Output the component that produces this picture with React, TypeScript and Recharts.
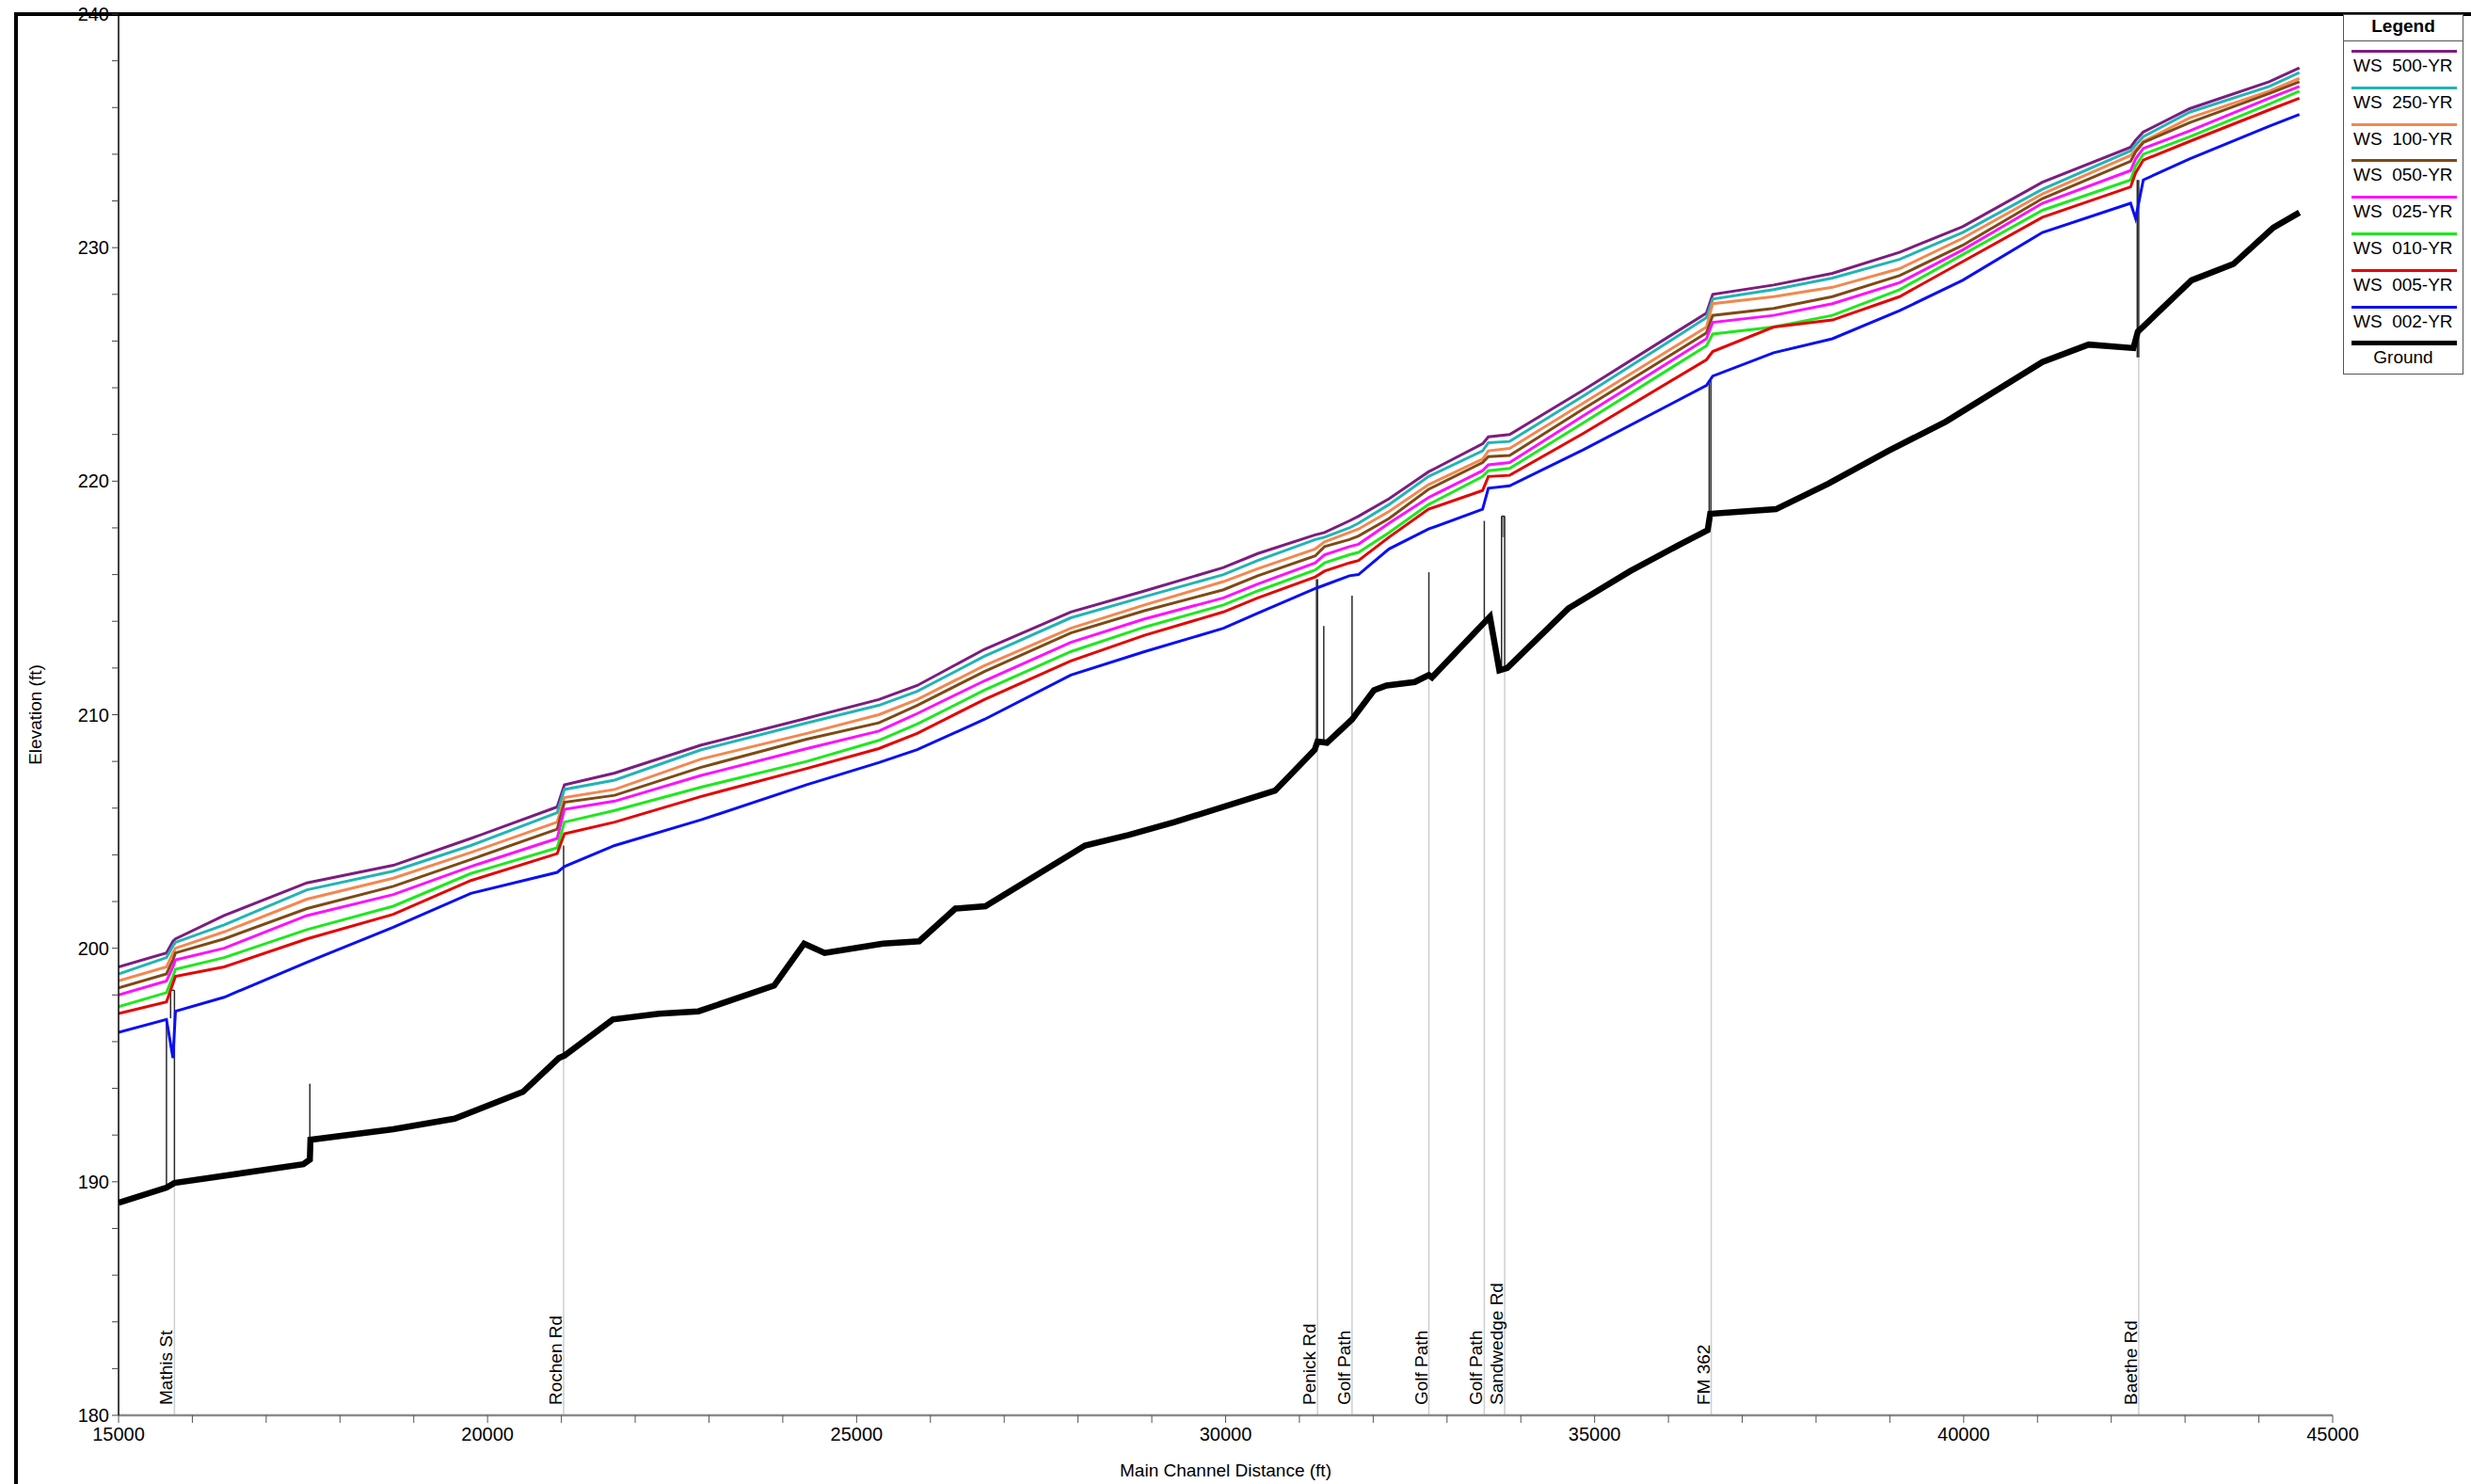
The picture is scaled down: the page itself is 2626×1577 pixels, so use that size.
import {
  LineChart,
  Line,
  XAxis,
  YAxis,
  ReferenceLine,
  ReferenceArea,
  Legend,
  Label,
} from "recharts"

const font = '"Liberation Sans", Arial, Helvetica, sans-serif'

// water surface profiles, main channel stations (ft)
const stations = [
  15000, 15649, 15737, 15771, 16430, 17552, 18722, 19773, 20943, 21041, 21723,
  22894, 24325, 25301, 25821, 26731, 27902, 28900, 29970, 30435, 31214, 31340,
  31677, 31800, 32214, 32749, 33482, 33560, 33848, 34848, 36515, 36600, 37425,
  38221, 39131, 39986, 41067, 42262, 42330, 42434, 43061, 44140, 44549,
]

const ws500 = [
  199.2, 199.8, 200.3, 200.4, 201.4, 202.8, 203.55, 204.7, 206.05, 207.0, 207.5,
  208.7, 209.85, 210.65, 211.25, 212.8, 214.4, 215.3, 216.3, 216.9, 217.7, 217.8,
  218.3, 218.5, 219.25, 220.4, 221.6, 221.9, 222.0, 223.9, 227.2, 228.0, 228.4,
  228.9, 229.8, 230.9, 232.8, 234.3, 234.6, 234.95, 235.95, 237.1, 237.7,
]
const ws250 = [
  198.9, 199.6, 200.1, 200.25, 201.0, 202.5, 203.3, 204.4, 205.8, 206.8, 207.2,
  208.5, 209.65, 210.4, 211.0, 212.5, 214.15, 215.05, 216.0, 216.6, 217.5, 217.6,
  218.0, 218.2, 219.0, 220.2, 221.3, 221.65, 221.7, 223.65, 227.0, 227.8, 228.2,
  228.7, 229.5, 230.65, 232.5, 234.15, 234.4, 234.75, 235.8, 236.9, 237.5,
]
const ws100 = [
  198.6, 199.2, 199.8, 200.0, 200.7, 202.1, 203.0, 204.1, 205.4, 206.45, 206.8,
  208.1, 209.2, 210.0, 210.65, 212.1, 213.7, 214.7, 215.7, 216.25, 217.1, 217.4,
  217.8, 217.95, 218.7, 219.85, 220.95, 221.3, 221.4, 223.35, 226.6, 227.6, 227.9,
  228.3, 229.1, 230.4, 232.3, 233.95, 234.2, 234.55, 235.55, 236.7, 237.25,
]
const ws050 = [
  198.3, 198.9, 199.5, 199.8, 200.4, 201.7, 202.65, 203.8, 205.1, 206.25, 206.55,
  207.75, 208.95, 209.65, 210.4, 211.85, 213.5, 214.45, 215.35, 215.95, 216.8, 217.2,
  217.5, 217.65, 218.4, 219.65, 220.8, 221.05, 221.1, 223.1, 226.35, 227.1, 227.4,
  227.9, 228.8, 230.1, 232.1, 233.7, 234.1, 234.5, 235.35, 236.6, 237.1,
]
const ws025 = [
  198.0, 198.6, 199.2, 199.5, 200.0, 201.4, 202.3, 203.5, 204.7, 205.95, 206.3,
  207.4, 208.55, 209.3, 210.05, 211.45, 213.1, 214.1, 215.0, 215.6, 216.5, 216.85,
  217.2, 217.3, 218.2, 219.3, 220.45, 220.7, 220.8, 222.8, 226.1, 226.8, 227.1,
  227.6, 228.5, 229.9, 231.9, 233.3, 233.8, 234.25, 235.0, 236.4, 236.9,
]
const ws010 = [
  197.5, 198.1, 198.8, 199.1, 199.6, 200.8, 201.8, 203.2, 204.3, 205.4, 205.9,
  206.9, 208.0, 208.9, 209.6, 211.05, 212.7, 213.75, 214.7, 215.3, 216.2, 216.5,
  216.85, 216.95, 217.8, 219.0, 220.2, 220.45, 220.55, 222.5, 225.8, 226.3, 226.6,
  227.1, 228.2, 229.7, 231.6, 232.9, 233.5, 234.0, 234.75, 236.15, 236.7,
]
const ws005 = [
  197.2, 197.7, 198.5, 198.8, 199.2, 200.4, 201.45, 202.9, 204.05, 204.9, 205.4,
  206.5, 207.7, 208.55, 209.2, 210.65, 212.3, 213.4, 214.4, 215.0, 215.9, 216.15,
  216.5, 216.6, 217.6, 218.8, 219.6, 220.2, 220.25, 222.05, 225.2, 225.55, 226.6,
  226.9, 227.9, 229.4, 231.3, 232.6, 233.2, 233.75, 234.55, 235.9, 236.4,
]
const ws002 = [
  196.4, 196.95, 195.3, 197.3, 197.9, 199.4, 200.9, 202.35, 203.25, 203.5, 204.4,
  205.5, 207.0, 207.95, 208.5, 209.8, 211.7, 212.7, 213.7, 214.35, 215.4, 215.55,
  215.95, 216.0, 217.1, 217.95, 218.8, 219.7, 219.8, 221.35, 224.1, 224.5, 225.5,
  226.1, 227.3, 228.6, 230.65, 231.9, 231.25, 232.9, 233.8, 235.2, 235.7,
]

// channel invert
const groundStations = [
  15000, 15649, 15757, 17504, 17592, 17600, 18722, 19552, 20479, 20967, 21040,
  21697, 22322, 22858, 23883, 24289, 24567, 25357, 25848, 26339, 26745, 28095,
  28682, 29307, 30671, 31207, 31245, 31373, 31713, 32010, 32180, 32562, 32754,
  32796, 33581, 33709, 33816, 34644, 35482, 36161, 36531, 36566, 37457, 38169,
  38980, 39758, 41067, 41694, 42300, 42360, 43087, 43656, 44196, 44549,
]
const groundElev = [
  189.1, 189.75, 189.95, 190.75, 190.95, 191.8, 192.25, 192.7, 193.85, 195.3, 195.4,
  196.95, 197.2, 197.3, 198.4, 200.2, 199.8, 200.2, 200.3, 201.7, 201.8, 204.4,
  204.85, 205.4, 206.75, 208.5, 208.85, 208.8, 209.8, 211.05, 211.25, 211.4, 211.7,
  211.6, 214.2, 211.9, 212.0, 214.55, 216.15, 217.3, 217.9, 218.6, 218.8, 219.9,
  221.3, 222.55, 225.1, 225.85, 225.7, 226.4, 228.6, 229.3, 230.86, 231.5,
]

// crossings
const bridgeNames = [
  "Mathis St", "Rochen Rd", "Penick Rd", "Golf Path", "Golf Path", "Golf Path",
  "Sandwedge Rd", "FM 362", "Baethe Rd",
]
const bridgeStations = [15757, 21030, 31245, 31713, 32754, 33505, 33781, 36580, 42372]
const bridgeGround = [189.95, 195.4, 208.85, 209.8, 211.7, 214.1, 212.0, 218.6, 226.0]

// deck outlines as [x1, y1, x2, y2]
const deckLines: [number, number, number, number][] = [
  [15649, 189.75, 15649, 196.95],
  [15705, 197.0, 15705, 198.2],
  [15705, 198.2, 15757, 198.2],
  [15757, 189.95, 15757, 198.2],
  [17592, 190.95, 17592, 194.2],
  [21030, 195.4, 21030, 204.4],
  [31232, 208.7, 31232, 215.8],
  [31245, 208.85, 31245, 215.8],
  [31330, 208.85, 31330, 213.8],
  [31713, 209.8, 31713, 215.1],
  [32754, 211.7, 32754, 216.1],
  [33505, 214.1, 33505, 218.3],
  [33739, 211.95, 33739, 218.5],
  [33739, 218.5, 33781, 218.5],
  [33781, 212.0, 33781, 218.5],
  [36552, 218.0, 36552, 224.3],
  [36575, 218.2, 36575, 224.3],
  [42352, 225.3, 42352, 232.9],
  [42372, 225.3, 42372, 232.9],
]

const xTicks = [
  15000, 16000, 17000, 18000, 19000, 20000, 21000, 22000, 23000, 24000, 25000,
  26000, 27000, 28000, 29000, 30000, 31000, 32000, 33000, 34000, 35000, 36000,
  37000, 38000, 39000, 40000, 41000, 42000, 43000, 44000, 45000,
]
const yTicks = [
  180, 182, 184, 186, 188, 190, 192, 194, 196, 198, 200, 202, 204, 206, 208, 210,
  212, 214, 216, 218, 220, 222, 224, 226, 228, 230, 232, 234, 236, 238, 240,
]

const seriesNames = [
  "WS  500-YR", "WS  250-YR", "WS  100-YR", "WS  050-YR",
  "WS  025-YR", "WS  010-YR", "WS  005-YR", "WS  002-YR",
]
const seriesColors = [
  "#7c1c80", "#22b4b4", "#f4874f", "#7e4a15",
  "#ff10ff", "#1ee81e", "#e60000", "#0a10f5",
]
const seriesValues = [ws500, ws250, ws100, ws050, ws025, ws010, ws005, ws002]

const wsData = seriesValues.map((vals) => stations.map((x, i) => ({ x, y: vals[i] })))
const groundData = groundStations.map((x, i) => ({ x, y: groundElev[i] }))

const LegendBox = () => (
  <div
    style={{
      position: "relative",
      width: 128,
      height: 383,
      boxSizing: "border-box",
      border: "1.5px solid #555",
      background: "#fff",
      fontFamily: font,
      color: "#000",
    }}
  >
    <div
      style={{
        position: "absolute",
        left: 0,
        right: 0,
        top: 0,
        height: 27,
        borderBottom: "1.5px solid #555",
        textAlign: "center",
        fontWeight: "bold",
        fontSize: 19,
        lineHeight: "24px",
      }}
    >
      Legend
    </div>
    {[...seriesNames, "Ground"].map((name, i) => {
      const isGround = i === seriesNames.length
      return (
        <div key={i}>
          <div
            style={{
              position: "absolute",
              left: 8,
              width: 112,
              top: 37 + i * 38.8 - (isGround ? 1 : 0),
              height: isGround ? 5 : 3,
              background: isGround ? "#000" : seriesColors[i],
            }}
          />
          <div
            style={{
              position: "absolute",
              left: isGround ? 0 : 10,
              right: isGround ? 0 : undefined,
              top: 43 + i * 38.8,
              fontSize: 19,
              lineHeight: "22px",
              whiteSpace: "pre",
              textAlign: isGround ? "center" : "left",
            }}
          >
            {name}
          </div>
        </div>
      )
    })}
  </div>
)

const BridgeLabel = (props: any) => {
  const vb = props.viewBox || {}
  const x = vb.x - 2
  const y = vb.y + vb.height - 11
  return (
    <text
      x={x}
      y={y}
      transform={`rotate(-90 ${x} ${y})`}
      fontSize={19}
      fontFamily={font}
      fill="#000"
    >
      {props.text}
    </text>
  )
}

export default function App() {
  return (
    <div style={{ position: "absolute", left: 0, top: 0, width: 2626, height: 1577, background: "#fff" }}>
      <div
        style={{
          position: "absolute",
          left: 15,
          top: 13,
          right: 0,
          bottom: 0,
          borderLeft: "4px solid #000",
          borderTop: "4px solid #000",
        }}
      />
      <LineChart
        width={2626}
        height={1577}
        margin={{ top: 15, right: 147, bottom: 0, left: 0 }}
        style={{ position: "absolute", left: 0, top: 0 }}
      >
        <XAxis
          type="number"
          dataKey="x"
          domain={[15000, 45000]}
          ticks={xTicks}
          interval={0}
          allowDataOverflow
          height={73}
          tickSize={8}
          tickMargin={5}
          tickFormatter={(v: number) => (v % 5000 === 0 ? String(v) : "")}
          tick={{ fontSize: 20, fill: "#000", fontFamily: font }}
          axisLine={{ stroke: "#8a8a8a", strokeWidth: 2.5 }}
          tickLine={{ stroke: "#555" }}
        >
          <Label
            content={(p: any) => (
              <text
                x={p.viewBox.x + p.viewBox.width / 2}
                y={p.viewBox.y + 65}
                textAnchor="middle"
                fontSize={19}
                fontFamily={font}
                fill="#000"
              >
                Main Channel Distance (ft)
              </text>
            )}
          />
        </XAxis>
        <YAxis
          type="number"
          domain={[180, 240]}
          ticks={yTicks}
          interval={0}
          allowDataOverflow
          width={126}
          tickSize={7}
          tickMargin={3}
          tickFormatter={(v: number) => (v % 10 === 0 ? String(v) : "")}
          tick={{ fontSize: 20, fill: "#000", fontFamily: font }}
          axisLine={{ stroke: "#000", strokeWidth: 1.5 }}
          tickLine={{ stroke: "#444" }}
        >
          <Label
            content={(p: any) => {
              const x = p.viewBox.x + 37
              const y = p.viewBox.y + p.viewBox.height / 2
              return (
                <text
                  x={x}
                  y={y}
                  transform={`rotate(-90 ${x} ${y})`}
                  textAnchor="middle"
                  dominantBaseline="central"
                  fontSize={19}
                  fontFamily={font}
                  fill="#000"
                >
                  Elevation (ft)
                </text>
              )
            }}
          />
        </YAxis>

        {bridgeStations.map((x, i) => (
          <ReferenceLine
            key={`b${i}`}
            segment={[{ x, y: 180 }, { x, y: bridgeGround[i] }]}
            stroke="#cfcfcf"
            strokeWidth={1.5}
            label={<BridgeLabel text={bridgeNames[i]} />}
          />
        ))}
        {deckLines.map(([x1, y1, x2, y2], i) => (
          <ReferenceLine
            key={`d${i}`}
            segment={[{ x: x1, y: y1 }, { x: x2, y: y2 }]}
            stroke="#2a2a2a"
            strokeWidth={1.5}
          />
        ))}
        <ReferenceArea x1={33739} x2={33781} y1={217.6} y2={218.5} fill="#9a9a9a" fillOpacity={1} stroke="none" />

        {wsData.map((d, i) => (
          <Line
            key={seriesNames[i]}
            data={d}
            dataKey="y"
            name={seriesNames[i]}
            type="linear"
            stroke={seriesColors[i]}
            strokeWidth={3}
            dot={false}
            isAnimationActive={false}
          />
        ))}
        <Line
          data={groundData}
          dataKey="y"
          name="Ground"
          type="linear"
          stroke="#000"
          strokeWidth={6.5}
          dot={false}
          isAnimationActive={false}
        />
        <Legend
          layout="vertical"
          align="center"
          verticalAlign="middle"
          wrapperStyle={{ left: 2490, top: 15, width: 128, height: 383 }}
          content={() => <LegendBox />}
        />
      </LineChart>
    </div>
  )
}
